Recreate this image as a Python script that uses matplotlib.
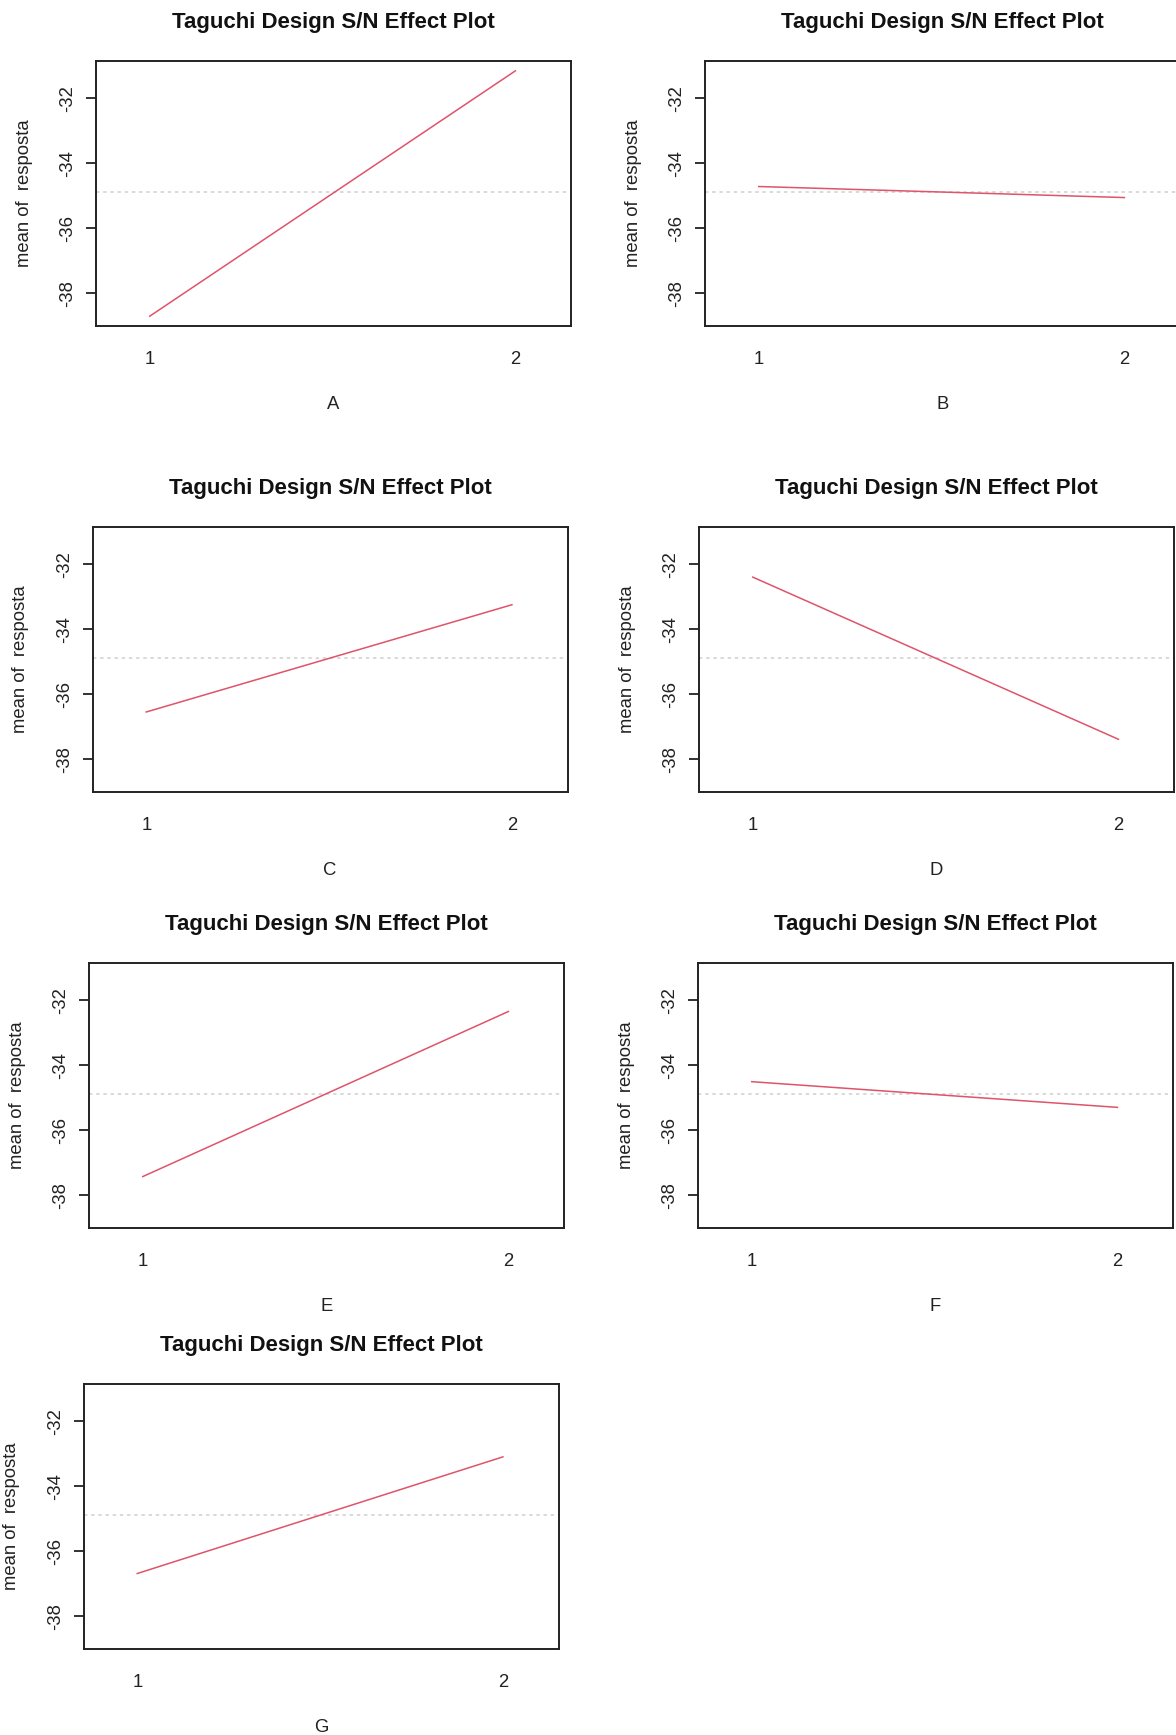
import matplotlib
matplotlib.use("Agg")
import matplotlib.pyplot as plt

# S/N effect per factor
factors = ["A", "B", "C", "D", "E", "F", "G"]
level_ticks = [1, 2]
sn_level1 = [-38.70, -34.71, -36.54, -32.39, -37.42, -34.50, -36.68]
sn_level2 = [-31.15, -35.05, -33.24, -37.38, -32.34, -35.29, -33.09]
grand_mean = -34.89
y_ticks = [-38, -36, -34, -32]

W, H = 1176, 1735
DPI = 100
# panel boxes in pixels: left, top (each image in the collage is shifted a bit)
boxes = [(96, 61), (705, 61), (92.5, 527), (699, 527), (89, 963), (698, 963), (83.5, 1384)]
BW, BH = 475, 265

plt.rcParams["font.family"] = ["Liberation Sans", "DejaVu Sans"]
plt.rcParams["font.size"] = 13.3

RED = "#DF536B"
INK = "#222222"

lo = min(sn_level1 + sn_level2)
hi = max(sn_level1 + sn_level2)
pad = 0.04 * (hi - lo)

fig = plt.figure(figsize=(W / DPI, H / DPI), dpi=DPI)
fig.patch.set_facecolor("white")

for name, y1, y2, (left, top) in zip(factors, sn_level1, sn_level2, boxes):
    ax = fig.add_axes([left / W, 1 - (top + BH) / H, BW / W, BH / H])
    ax.axhline(grand_mean, color="#cfcfcf", lw=1.1, dashes=(2.2, 2.5))
    ax.plot(level_ticks, [y1, y2], color=RED, lw=1.1)
    ax.set_xlim(0.853, 2.152)
    ax.set_ylim(lo - pad, hi + pad)
    ax.set_xticks(level_ticks)
    ax.set_xticklabels([str(v) for v in level_ticks])
    ax.set_yticks(y_ticks)
    ax.set_yticklabels([str(v) for v in y_ticks], rotation=90, va="center")
    ax.tick_params(axis="x", length=0, pad=18, colors=INK, labelsize=13.3)
    ax.tick_params(axis="y", length=7.2, width=1.3, pad=7, colors=INK, labelsize=13.3)
    for sp in ax.spines.values():
        sp.set_linewidth(1.4)
        sp.set_color(INK)
    ax.set_title("Taguchi Design S/N Effect Plot", fontsize=16, fontweight="bold",
                 color="#111111", pad=23.5)
    ax.set_xlabel(name, labelpad=20, color=INK)
    ax.set_ylabel("mean of  resposta", labelpad=19, color=INK)

fig.savefig("out.png", dpi=DPI, facecolor="white")
